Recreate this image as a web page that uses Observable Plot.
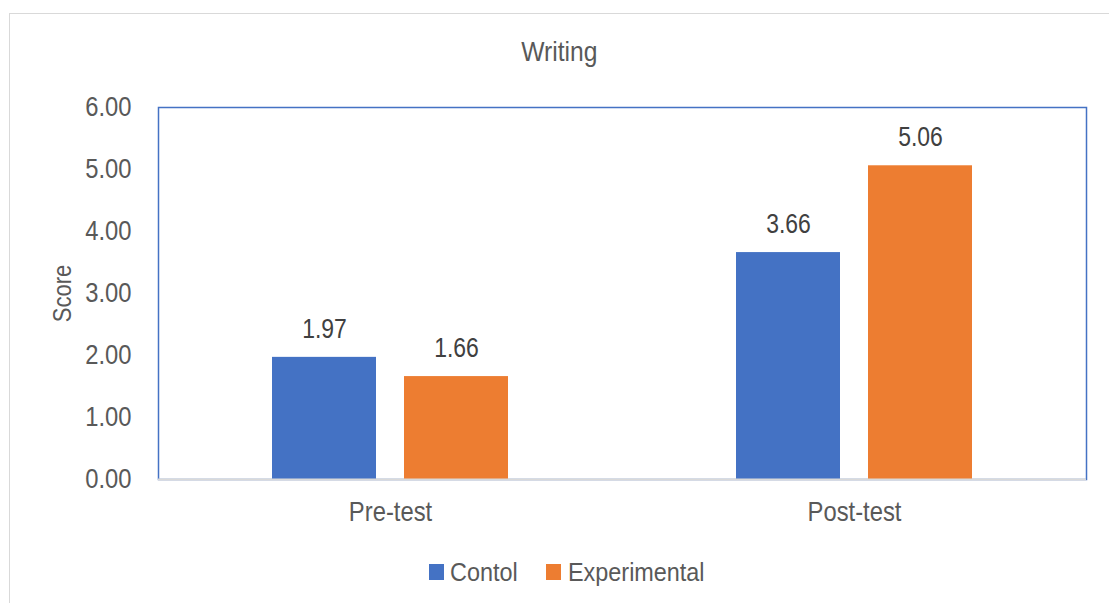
<!DOCTYPE html>
<html>
<head>
<meta charset="utf-8">
<script src="https://cdn.jsdelivr.net/npm/d3@7"></script>
<script src="https://cdn.jsdelivr.net/npm/@observablehq/plot@0.6"></script>
<style>
  html, body { margin: 0; padding: 0; background: #fff; overflow: hidden; }
  body { width: 1109px; height: 603px; position: relative;
         font-family: "Liberation Sans", Arial, sans-serif; }
  #border { position: absolute; left: 9px; top: 13px; width: 1200px; height: 700px;
            border: 1.5px solid #d9d9d9; box-sizing: border-box; }
  #title { position: absolute; left: 0; width: 1118px; top: 35px; text-align: center;
           font-size: 28px; color: #595959; line-height: 34px; }
  #title span { display: inline-block; transform: scaleX(0.88); }
  #chart { position: absolute; left: 0; top: 90px; }
  #legend { position: absolute; top: 555px; left: 0; width: 1109px; height: 34px;
            font-size: 26px; color: #595959; line-height: 34px; }
  .sw { position: absolute; width: 15px; height: 16px; top: 9px; }
  .lbl { position: absolute; top: 0; white-space: nowrap; transform: scaleX(0.9);
         transform-origin: left center; }
</style>
</head>
<body>
<div id="border"></div>
<div id="title"><span>Writing</span></div>
<div id="chart"></div>
<div id="legend"></div>
<script>
// Mean writing scores by test and group
const categories = ["Pre-test", "Post-test"];
const groups = ["Contol", "Experimental"];
const contolScores = [1.97, 3.66];
const experimentalScores = [1.66, 5.06];
const yTicks = [0, 1, 2, 3, 4, 5, 6];
const groupColors = ["#4472C4", "#ED7D31"];

const rows = [];
categories.forEach((c, i) => {
  rows.push({test: c, group: groups[0], score: contolScores[i]});
  rows.push({test: c, group: groups[1], score: experimentalScores[i]});
});

const plot = Plot.plot({
  width: 1109,
  height: 440,
  marginTop: 17,
  marginBottom: 51,
  marginLeft: 157,
  marginRight: 23,
  style: {fontFamily: '"Liberation Sans", Arial, sans-serif', color: "#595959", background: "transparent"},
  fx: {domain: categories, padding: 0, label: null},
  x: {domain: groups, paddingInner: 0.2105, paddingOuter: 0.8515, axis: null},
  y: {domain: [0, 6], label: null},
  color: {domain: groups, range: groupColors},
  marks: [
    Plot.frame({facet: "super", stroke: "#4472C4", strokeWidth: 1.5}),
    Plot.barY(rows, {fx: "test", x: "group", y: "score", fill: "group"}),
    Plot.ruleY([0], {stroke: "#d9d9d9", strokeWidth: 2}),
    Plot.text(rows, {fx: "test", x: "group", y: "score", text: d => d.score.toFixed(2),
                     dy: -28, lineAnchor: "middle", fontSize: 27, fill: "#404040"}),
    Plot.axisY({ticks: yTicks, tickFormat: d => d.toFixed(2), tickSize: 0, tickPadding: 27,
                fontSize: 28, label: null}),
    Plot.axisFx({anchor: "bottom", tickSize: 0, tickPadding: 22, fontSize: 28, label: null}),
    // y-axis title, drawn in the first facet only, centred on the value range
    Plot.text([{test: categories[0], label: "Score"}],
              {fx: "test", frameAnchor: "left", y: () => 3, text: "label", dx: -96, rotate: -90,
               textAnchor: "middle", lineAnchor: "middle", fontSize: 26, fill: "#595959"})
  ]
});

// Condense the glyphs horizontally (narrow sans look) around each label's anchor
const narrow = 0.85;
plot.querySelectorAll("text").forEach(t => {
  const xa = t.getAttribute("x");
  let x = 0;
  if (xa !== null && /^-?[\d.]+$/.test(xa)) { x = +xa; t.removeAttribute("x"); }
  const tr = t.getAttribute("transform") || "";
  t.setAttribute("transform", `${tr} translate(${x},0) scale(${narrow},1)`);
});
document.getElementById("chart").appendChild(plot);

// Legend
const legend = document.getElementById("legend");
const legendX = [[429, 450], [546, 568]];
groups.forEach((g, i) => {
  const sw = document.createElement("span");
  sw.className = "sw";
  sw.style.left = legendX[i][0] + "px";
  sw.style.background = groupColors[i];
  const label = document.createElement("span");
  label.className = "lbl";
  label.style.left = legendX[i][1] + "px";
  label.textContent = g;
  legend.appendChild(sw);
  legend.appendChild(label);
});
</script>
</body>
</html>
